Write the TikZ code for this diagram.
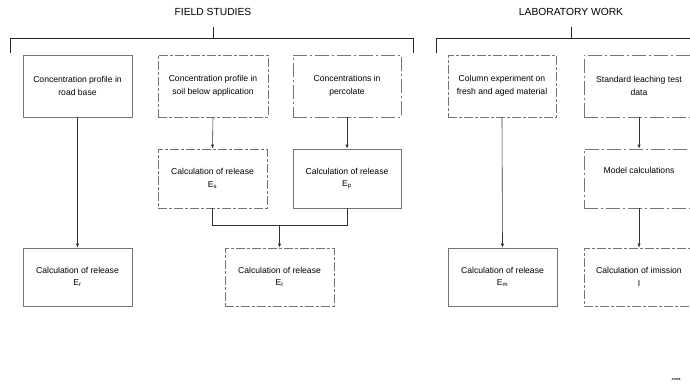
\documentclass[tikz,border=0pt]{standalone}
\usepackage{fontspec}
\setmainfont{Liberation Sans}
\usetikzlibrary{arrows.meta}
\begin{document}
\begin{tikzpicture}[x=1pt,y=-1pt,
  box/.style={draw=black!55, line width=0.6pt, minimum width=109pt, minimum height=60pt, inner sep=0pt,
    align=center, font=\fontsize{8.6}{12.5}\selectfont},
  brk/.style={dashed, dash pattern=on 9pt off 2pt on 3pt off 2pt},
  brk2/.style={dash pattern=on 14pt off 3pt on 2pt off 3pt},
  title/.style={font=\fontsize{10.3}{12}\selectfont, inner sep=0pt},
  conn/.style={draw=black!80, line width=0.6pt},
  arr/.style={conn, -{Latex[length=4pt,width=3.2pt]}},
  bracket/.style={draw=black!85, line width=0.7pt}]
\useasboundingbox (0,0) rectangle (690,386);
\begin{scope}
\clip (0,0) rectangle (690,386);
% titles
\node[title] (fs) at (213,12) {FIELD STUDIES};
\node[title] (lw) at (571,12) {LABORATORY WORK};
\coordinate (fsT) at (213,27);
\coordinate (fsB) at (213,38);
\coordinate (fL1) at (10,38);
\coordinate (fL2) at (10,53);
\coordinate (fR1) at (413,38);
\coordinate (fR2) at (413,53);
\coordinate (lwT) at (571,27);
\coordinate (lwB) at (571,38);
\coordinate (lL1) at (436,38);
\coordinate (lL2) at (436,53);
\coordinate (lR) at (692,38);
\draw[bracket] (fsT) -- (fsB);
\draw[bracket] (fL2) -- (fL1) -- (fR1) -- (fR2);
\draw[bracket] (lwT) -- (lwB);
\draw[bracket] (lL2) -- (lL1) -- (lR);
% row 1
\node[box, minimum height=62pt] (A) at (77.5,86) {Concentration profile in\\road base};
\node[box, brk, minimum height=62pt, minimum width=110pt] (B) at (213,86) {Concentration profile in\\soil below application};
\node[box, brk2, minimum height=62pt, minimum width=108pt] (C) at (347,86) {Concentrations in\\percolate};
\node[box, brk, minimum height=62pt, minimum width=108pt] (D) at (502,86) {Column experiment on\\fresh and aged material};
\node[box, brk2, minimum height=62pt, minimum width=110pt] (E) at (639,86) {Standard leaching test\\data};
% row 2
\node[box, brk, minimum height=59pt] (F) at (212.5,178.5) {Calculation of release\\E\textsubscript{s}};
\node[box, minimum height=59pt, minimum width=108pt] (G) at (347,178.5) {Calculation of release\\E\textsubscript{p}};
\node[box, brk2, minimum height=59pt, minimum width=110pt] (H) at (639,178.5) {Model calculations\\\strut};
% row 3
\node[box, minimum height=58pt] (I) at (77.5,277) {Calculation of release\\E\textsubscript{r}};
\node[box, brk, minimum height=58pt] (J) at (279.5,277) {Calculation of release\\E\textsubscript{t}};
\node[box, minimum height=58pt] (K) at (502.5,277) {Calculation of release\\E\textsubscript{m}};
\node[box, brk, minimum height=58pt, minimum width=110pt] (L) at (639,277) {Calculation of imission\\I};
% connectors
\draw[arr] (A.south) -- (I.north);
\draw[arr] (B.south) -- (F.north);
\draw[arr] (C.south) -- (G.north);
\draw[arr] (D.south) -- (K.north);
\draw[arr] (E.south) -- (H.north);
\draw[arr] (H.south) -- (L.north);
\coordinate (mF) at (212.5,225);
\coordinate (mG) at (347,225);
\coordinate (mJ) at (279.5,225);
\draw[conn] (F.south) -- (mF) -- (mG) -- (G.south);
\draw[arr] (mJ) -- (J.north);
\node[font=\fontsize{3}{3}\selectfont\bfseries, inner sep=0pt] (code) at (676,379) {A7906};
\end{scope}
\end{tikzpicture}
\end{document}
